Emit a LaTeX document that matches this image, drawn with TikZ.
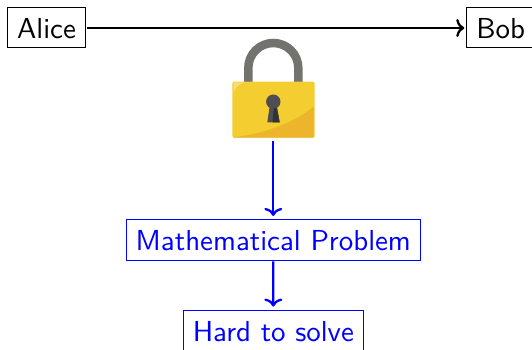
\documentclass[tikz,border=0pt]{standalone}
\usetikzlibrary{arrows.meta}
\definecolor{lockgold}{HTML}{F4CE30}
\definecolor{lockshade}{HTML}{EDB52C}
\definecolor{lockgray}{HTML}{72726E}
\definecolor{lockhole}{HTML}{4E4E54}
\definecolor{lockglint}{HTML}{F8DE78}
\newcommand{\tscale}{2.89}
\tikzset{
  box/.style={draw,line width=1pt,inner sep=0pt,scale=\tscale,font=\sffamily\fontsize{10}{12}\selectfont,text height=7.5pt,text depth=0pt},
  bluebox/.style={box,draw=blue,text=blue},
  link/.style={line width=2.3pt,-{To[length=8pt,width=18pt]}},
  bluelink/.style={link,blue}
}
\begin{document}
\begin{tikzpicture}[x=1pt,y=-1pt]
\useasboundingbox (0,0) rectangle (532,350);
\clip (0,0) rectangle (532,350);
\fill[white] (0,0) rectangle (532,350);
% lock
\draw[lockgray,line width=8.5pt] (248.3,84) -- (248.3,68) arc[start angle=180,end angle=360,radius=25] -- (298.3,84);
\fill[lockgold,rounded corners=2pt] (232.3,81.7) rectangle (314.7,137.7);
\begin{scope}
\clip[rounded corners=2pt] (232.3,81.7) rectangle (314.7,137.7);
\fill[lockshade] (232.3,137.2) .. controls (265,134) and (295,122) .. (314.7,106) -- (314.7,137.7) -- (232.3,137.7) -- cycle;
\fill[lockglint] (233.5,95) .. controls (234,88) and (238,83.5) .. (246,82.5) -- (234,82.5) -- cycle;
\end{scope}
\fill[lockhole] (273.3,101.7) circle[radius=7.2];
\fill[lockhole] (270,104) -- (276.6,104) -- (279.7,122.3) -- (267.3,122.3) -- cycle;
\fill[black!80] (273.6,108) -- (276.6,108) -- (279.7,122.3) -- (272.5,122.3) -- cycle;
\node[inner sep=0pt,minimum width=83pt,minimum height=102pt,anchor=south] (lock) at (273.3,141) {};
% boxes
\node[box,minimum width=78pt/\tscale,minimum height=40pt/\tscale] (alice) at (46.5,28) {Alice};
\node[box,minimum width=68pt/\tscale,minimum height=40pt/\tscale] (bob) at (500.7,28) {Bob};
\node[bluebox,minimum width=294.5pt/\tscale,minimum height=40.7pt/\tscale] (math) at (273.3,239.7) {Mathematical Problem};
\node[bluebox,minimum width=180.5pt/\tscale,minimum height=41pt/\tscale] (hard) at (273.3,330.5) {Hard to solve};
% connectors
\draw[link,shorten >=1pt] (alice) -- (bob);
\draw[bluelink,shorten >=2pt] (lock.south) -- (math.north);
\draw[bluelink,shorten >=2pt] (math) -- (hard);
\end{tikzpicture}
\end{document}
